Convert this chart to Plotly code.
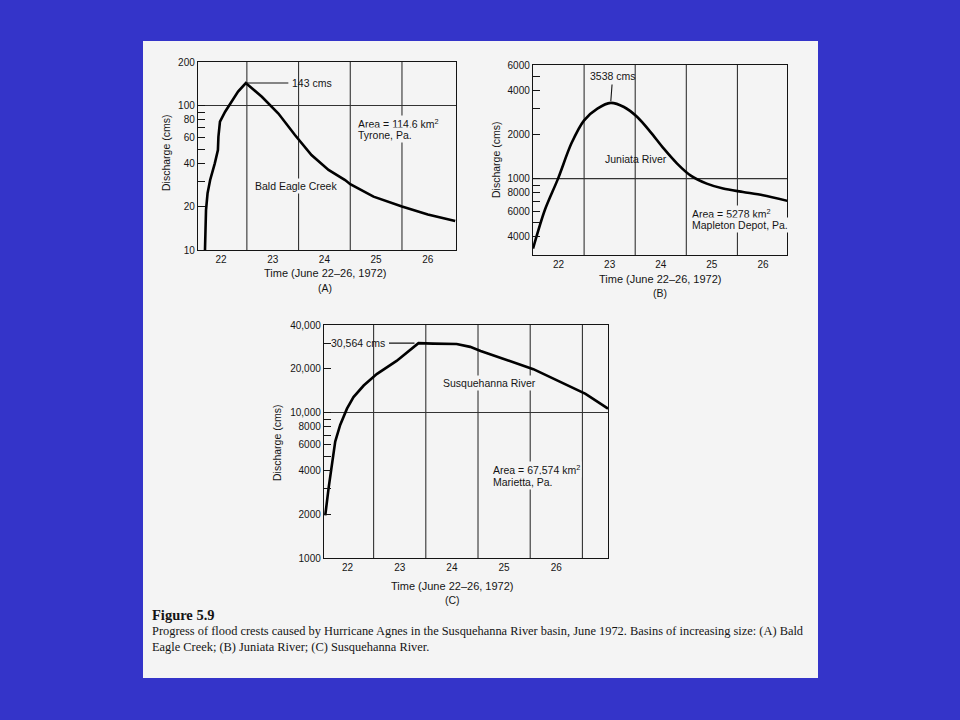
import math
import plotly.graph_objects as go

W, H = 960, 720
BLUE = "#3434c9"
PAGE = "#f4f4f4"
INK = "#141414"
SANS = "Liberation Sans, Arial, sans-serif"
SERIF = "Liberation Serif, Times New Roman, serif"

# ---------------- data ----------------
day_ticks = [22, 23, 24, 25, 26]
day_labels = ["22", "23", "24", "25", "26"]
grid_days_ab = [22.5, 23.5, 24.5, 25.5]
grid_days_c = [22.5, 23.5, 24.5, 25.5, 26.5]
x_title = "Time (June 22–26, 1972)"
y_title = "Discharge (cms)"

# (A) Bald Eagle Creek
a_day = [21.69, 21.71, 21.74, 21.79, 21.88, 21.94, 21.95, 21.98, 22.08,
         22.21, 22.33, 22.48, 22.79, 23.11, 23.43, 23.75, 24.08, 24.4,
         24.5, 24.95, 25.5, 26.0, 26.53]
a_q = [10, 18.9, 24.7, 30.5, 39.8, 49.2, 60.8, 77.3, 90.6,
       106, 124.7, 143, 115, 88, 62.5, 45.4, 35.8, 30.5,
       28.5, 23.4, 20, 17.6, 15.9]
a_peak_day, a_peak_q = 22.48, 143
a_yvals = [10, 20, 40, 60, 80, 100, 200]
a_ytext = ["10", "20", "40", "60", "80", "100", "200"]
a_yminor = [30, 50, 70, 90]

# (B) Juniata River
b_day = [21.50, 21.73, 21.99, 22.25, 22.50, 22.76, 23.02, 23.28, 23.54,
         23.80, 24.06, 24.32, 24.58, 24.90, 25.22, 25.61, 26.0, 26.49]
b_q = [332, 607, 1000, 1738, 2508, 3015, 3300, 3093, 2641,
       2084, 1603, 1268, 1053, 924, 855, 810, 769, 703]
b_peak_day, b_peak_q = 23.02, 3300
b_yvals = [400, 600, 800, 1000, 2000, 4000, 6000]
b_ytext = ["4000", "6000", "8000", "1000", "2000", "4000", "6000"]
b_yminor = [500, 700, 900, 3000, 5000]

# (C) Susquehanna River
c_day = [21.574, 21.64, 21.765, 21.86, 21.99, 22.115, 22.31, 22.56, 22.94,
         23.36, 23.64, 24.09, 24.35, 24.55, 25.56, 26.56, 26.99]
c_q = [1963, 3055, 6320, 8220, 10640, 12770, 15340, 18380, 22640,
       30000, 29800, 29600, 28300, 26500, 19870, 13450, 10640]
c_peak_day, c_peak_q = 23.36, 30000
c_yvals = [1000, 2000, 4000, 6000, 8000, 10000, 20000, 40000]
c_ytext = ["1000", "2000", "4000", "6000", "8000", "10,000", "20,000", "40,000"]
c_yminor = [3000, 5000, 7000, 9000, 30000]

caption_title = "Figure 5.9"
caption_lines = [
    "Progress of flood crests caused by Hurricane Agnes in the Susquehanna River basin, June 1972. Basins of increasing size: (A) Bald",
    "Eagle Creek; (B) Juniata River; (C) Susquehanna River.",
]


def px(x):
    return x / W


def py(y):
    return 1 - y / H


fig = go.Figure()

panels = [
    ("", a_day, a_q, (198, 456), (62, 250), (21.555, 26.545), (10, 200), a_yvals, a_ytext, a_yminor, grid_days_ab, 100, "linear"),
    ("2", b_day, b_q, (533, 787), (65, 255), (21.50, 26.47), (300, 6000), b_yvals, b_ytext, b_yminor, grid_days_ab, 1000, "spline"),
    ("3", c_day, c_q, (324, 608), (325, 558), (21.55, 26.99), (1000, 40000), c_yvals, c_ytext, c_yminor, grid_days_c, 10000, "linear"),
]

shapes = [dict(type="rect", xref="paper", yref="paper", x0=px(143), x1=px(818),
               y0=py(678), y1=py(41), fillcolor=PAGE, line=dict(width=0), layer="below")]

for k, days, q, xd, yd, xr, yr, yvals, ytext, yminor, gdays, hgrid, lshape in panels:
    xa = "x" + k
    ya = "y" + k
    line = dict(color="#000000", width=2.6, shape=lshape)
    if lshape == "spline":
        line["smoothing"] = 0.8
    fig.add_trace(go.Scatter(x=days, y=q, mode="lines", xaxis=xa, yaxis=ya,
                             line=line, showlegend=False, hoverinfo="skip"))
    fig.update_layout(**{
        "xaxis" + k: dict(domain=[px(xd[0]), px(xd[1])], range=list(xr), anchor=ya,
                          tickvals=day_ticks, ticktext=day_labels, ticks="",
                          showline=True, mirror=True, linecolor=INK, linewidth=1.2,
                          showgrid=False, zeroline=False, automargin=False, fixedrange=True,
                          tickfont=dict(family=SANS, size=10, color=INK)),
        "yaxis" + k: dict(domain=[py(yd[1]), py(yd[0])], type="log",
                          range=[math.log10(yr[0]), math.log10(yr[1])], anchor=xa,
                          tickvals=yvals, ticktext=ytext, ticks="inside", ticklen=7,
                          tickcolor=INK, tickwidth=1, automargin=False, fixedrange=True,
                          minor=dict(tickmode="array", tickvals=yminor, ticks="inside",
                                     ticklen=7, tickcolor=INK, tickwidth=1, showgrid=False),
                          showline=True, mirror=True, linecolor=INK, linewidth=1.2,
                          showgrid=False, zeroline=False,
                          tickfont=dict(family=SANS, size=10, color=INK)),
    })
    for g in gdays:
        shapes.append(dict(type="line", xref=xa, yref=ya + " domain", x0=g, x1=g, y0=0, y1=1,
                           line=dict(color="#333333", width=1.1), layer="below"))
    shapes.append(dict(type="line", xref=xa + " domain", yref=ya, x0=0, x1=1, y0=hgrid, y1=hgrid,
                       line=dict(color="#333333", width=1.1), layer="below"))

fig.update_layout(shapes=shapes)

ann = []


def text(x, y, s, size=10.5, xanchor="left", yanchor="middle", bg=None, angle=0, family=SANS):
    d = dict(xref="paper", yref="paper", x=px(x), y=py(y), text=s, showarrow=False,
             xanchor=xanchor, yanchor=yanchor, textangle=angle,
             font=dict(family=family, size=size, color=INK))
    if bg:
        d["bgcolor"] = bg
        d["borderpad"] = 1
    ann.append(d)


# Panel A labels
text(356, 123, "Area = 114.6 km<sup>2</sup>", bg=PAGE)
text(356, 135, "Tyrone, Pa.", bg=PAGE)
text(296, 186, "Bald Eagle Creek", xanchor="center", bg=PAGE)
text(166, 153, y_title, xanchor="center", angle=-90)
text(325, 273, x_title, size=11, xanchor="center")
text(325, 288, "(A)", size=10.5, xanchor="center")
ann.append(dict(xref="x", yref="y", x=a_peak_day, y=math.log10(a_peak_q), text="143 cms",
                showarrow=True, arrowhead=0, arrowwidth=1.1, arrowcolor=INK, ax=66, ay=0,
                standoff=0, borderpad=3, font=dict(family=SANS, size=10.5, color=INK)))

# Panel B labels
text(636, 159, "Juniata River", xanchor="center")
text(690, 213, "Area = 5278 km<sup>2</sup>", bg=PAGE)
text(690, 225, "Mapleton Depot, Pa.", bg=PAGE)
text(496, 160, y_title, xanchor="center", angle=-90)
text(660, 279, x_title, size=11, xanchor="center")
text(660, 293, "(B)", size=10.5, xanchor="center")
ann.append(dict(xref="x2", yref="y2", x=b_peak_day, y=math.log10(b_peak_q), text="3538 cms",
                showarrow=True, arrowhead=0, arrowwidth=1.1, arrowcolor=INK, ax=2, ay=-27,
                standoff=2, borderpad=2, font=dict(family=SANS, size=10.5, color=INK)))

# Panel C labels
text(490, 383, "Susquehanna River", xanchor="center", bg=PAGE)
text(491, 469, "Area = 67,574 km<sup>2</sup>", bg=PAGE)
text(491, 482, "Marietta, Pa.", bg=PAGE)
text(277, 443, y_title, xanchor="center", angle=-90)
text(452, 586, x_title, size=11, xanchor="center")
text(452, 600, "(C)", size=10.5, xanchor="center")
ann.append(dict(xref="x3", yref="y3", x=c_peak_day, y=math.log10(c_peak_q), text="30,564 cms",
                showarrow=True, arrowhead=0, arrowwidth=1.1, arrowcolor=INK, ax=-60, ay=0,
                standoff=4, borderpad=3, font=dict(family=SANS, size=10.5, color=INK)))

# Caption
text(150, 615, "<b>" + caption_title + "</b>", size=14.5, family=SERIF)
text(150, 631, caption_lines[0], size=12.4, family=SERIF)
text(150, 647, caption_lines[1], size=12.4, family=SERIF)

fig.update_layout(annotations=ann, width=W, height=H, autosize=False,
                  margin=dict(l=0, r=0, t=0, b=0, pad=0), paper_bgcolor=BLUE,
                  plot_bgcolor="rgba(0,0,0,0)", showlegend=False, hovermode=False)

fig.write_html("out.html", config={"displayModeBar": False, "staticPlot": True},
               post_script="document.body.style.margin='0';document.body.style.padding='0';")
